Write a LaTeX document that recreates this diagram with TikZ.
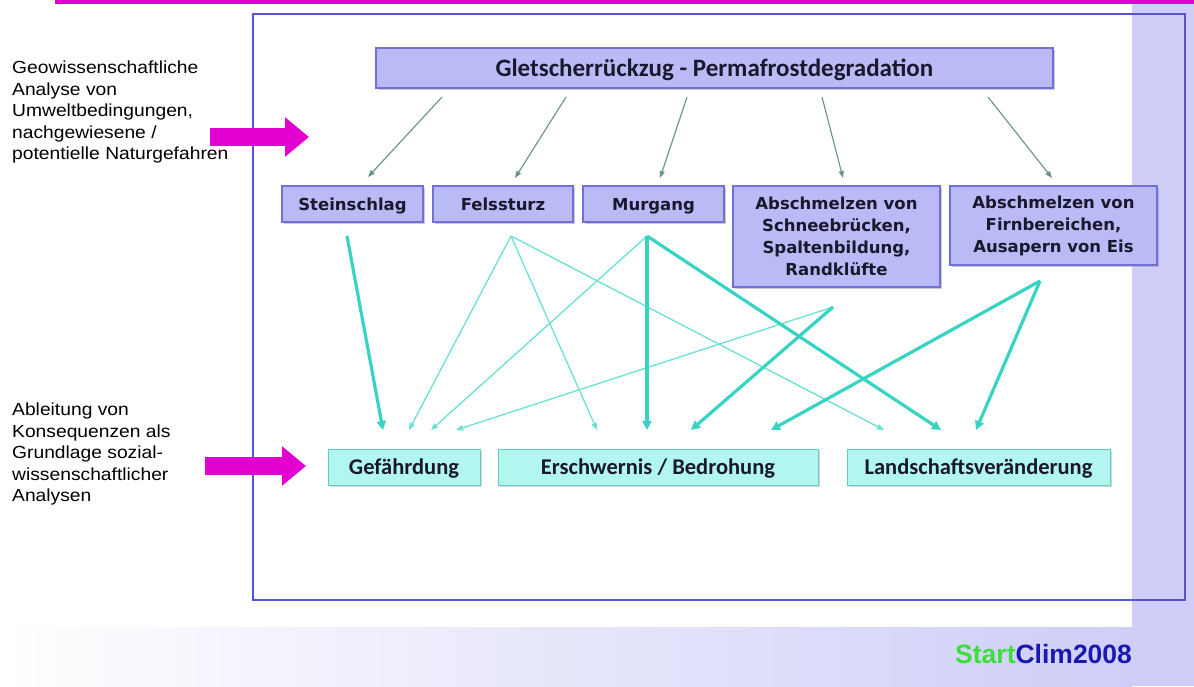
\documentclass[tikz,border=0pt]{standalone}
\usepackage{fontspec}
\setmainfont{Liberation Sans}
\newfontfamily\sidefont[FakeStretch=1.1]{Liberation Sans}
\newfontfamily\boxfont{DejaVu Sans}
\newfontfamily\calfont{Carlito}
\usetikzlibrary{arrows.meta,shadows}

\definecolor{lavFill}{RGB}{186,186,246}
\definecolor{lavLine}{RGB}{112,112,214}
\definecolor{cyanFill}{RGB}{178,246,240}
\definecolor{cyanLine}{RGB}{95,205,195}
\definecolor{tealArrow}{RGB}{55,212,196}
\definecolor{tealLight}{RGB}{105,226,212}
\definecolor{greyArrow}{RGB}{105,145,135}
\definecolor{magBar}{RGB}{226,0,208}
\definecolor{frameBlue}{RGB}{85,85,212}
\definecolor{pageLav}{RGB}{206,206,248}
\definecolor{logoGreen}{RGB}{60,222,60}
\definecolor{logoBlue}{RGB}{25,25,176}
\definecolor{boxText}{RGB}{25,25,45}

\begin{document}
\begin{tikzpicture}
[x=1pt,y=-1pt,
  topDecorate/.style={draw=lavLine,fill=lavFill,line width=1.2pt,inner sep=0pt,
    text=boxText,font=\calfont\bfseries\fontsize{25}{28}\selectfont,
    text height=16pt,text depth=0pt,
    drop shadow={shadow xshift=1.5pt,shadow yshift=-1.5pt,fill=black!40,opacity=0.5}},
  hazardDecorate/.style={draw=lavLine,fill=lavFill,line width=1.2pt,inner sep=0pt,
    align=center,text=boxText,font=\boxfont\bfseries\fontsize{16.5}{22}\selectfont,
    drop shadow={shadow xshift=1.5pt,shadow yshift=-1.5pt,fill=black!40,opacity=0.5}},
  oneLine/.style={text height=12pt,text depth=0pt},
  manyLines/.style={},
  effectDecorate/.style={draw=cyanLine,fill=cyanFill,line width=1pt,inner sep=0pt,
    text=boxText,font=\calfont\bfseries\fontsize{22.5}{26}\selectfont,
    text height=14.5pt,text depth=0pt,
    drop shadow={shadow xshift=1.5pt,shadow yshift=-1.5pt,fill=black!30,opacity=0.5}},
  sideText/.style={anchor=north west,inner sep=0pt,align=left,
    font=\sidefont\fontsize{17.5}{21.4}\selectfont},
  greyLine/.style={draw=greyArrow,line width=1.1pt,-{Triangle[length=7pt,width=5pt]}},
  thinLine/.style={draw=tealLight,line width=1.3pt,-{Triangle[length=7pt,width=5.5pt]}},
  thickLine/.style={draw=tealArrow,line width=3.2pt,-{Triangle[length=9pt,width=9pt]}},
  magentaLine/.style={draw=magBar,line width=18pt,-{Triangle[length=24pt,width=38pt]}}]
\useasboundingbox (0,0) rectangle (1194,686);
%% page background
\fill[pageLav] (0,0) rectangle (1194,686);
\fill[white] (0,0) rectangle (1132,627);
\shade[left color=white,right color=pageLav] (0,627) rectangle (1132,686);
\fill[magBar] (55,0) rectangle (1194,4);
\draw[frameBlue,line width=2.5pt] (253,14) rectangle (1185,600);
%% boxes
\node (top) at (714.5,68) [topDecorate,minimum width=677pt,minimum height=40pt]
  {Gletscherr\"uckzug - Permafrostdegradation};
\foreach \nodename/\x/\y/\w/\h/\kind/\txt in {st/352.5/204/141/36/oneLine/Steinschlag,
  fs/503/204/140/36/oneLine/Felssturz, mu/653.5/204/141/36/oneLine/Murgang,
  sb/836.5/236.5/207/101/manyLines/{Abschmelzen von\\Schneebr\"ucken,\\Spaltenbildung,\\Randkl\"ufte},
  fb/1053.5/225.5/207/79/manyLines/{Abschmelzen von\\Firnbereichen,\\Ausapern von Eis}}
{
  \node (\nodename) at (\x,\y) [hazardDecorate,\kind,minimum width=\w pt,minimum height=\h pt] {\txt};
}
\foreach \nodename/\x/\w/\txt in {gef/404/152/Gef\"ahrdung,
  er/658/320/{Erschwernis / Bedrohung}, la/978.5/263/Landschaftsver\"anderung}
{
  \node (\nodename) at (\x,467) [effectDecorate,minimum width=\w pt,minimum height=36pt] {\txt};
}
%% side texts
\node (geo) at (12,61) [sideText]
  {Geowissenschaftliche\\Analyse von\\Umweltbedingungen,\\nachgewiesene /\\potentielle Naturgefahren};
\node (abl) at (12,403) [sideText]
  {Ableitung von\\Konsequenzen als\\Grundlage sozial-\\wissenschaftlicher\\Analysen};
\node (logo) at (955,663) [anchor=base west,inner sep=0pt,font=\bfseries\fontsize{26.5}{30}\selectfont]
  {\textcolor{logoGreen}{Start}\textcolor{logoBlue}{Clim2008}};
%% end points of the connectors
\foreach \name/\x/\y in {t1/442/97, t2/566/97, t3/687/97, t4/822/97, t5/988/97,
  h1/368/177, h2/515/178, h3/660/178, h4/843/178, h5/1052/178,
  stO/347/236, fsO/511/236, muO/647/236, sbO/833/307, fbO/1040/281,
  gefA/383/430, gefB/409/430, gefC/431/430, gefD/456/430,
  erA/597/430, erB/647/430, erC/691/430, erD/771/430,
  laA/884/430, laB/941/430, laC/976/430,
  m1/210/137, m2/309/137, m3/205/466, m4/306/466}
{
  \coordinate (\name) at (\x,\y);
}
%% connectors
\path
\foreach \startnode/\endnode in {t1/h1, t2/h2, t3/h3, t4/h4, t5/h5}
{
  (\startnode) edge[greyLine] (\endnode)
};
\path
\foreach \startnode/\endnode in {fsO/gefB, fsO/erA, fsO/laA, muO/gefC, sbO/gefD}
{
  (\startnode) edge[thinLine] (\endnode)
};
\path
\foreach \startnode/\endnode in {stO/gefA, muO/erB, muO/laB, sbO/erC, fbO/erD, fbO/laC}
{
  (\startnode) edge[thickLine] (\endnode)
};
\draw[magentaLine] (m1) -- (m2);
\draw[magentaLine] (m3) -- (m4);
\end{tikzpicture}
\end{document}
